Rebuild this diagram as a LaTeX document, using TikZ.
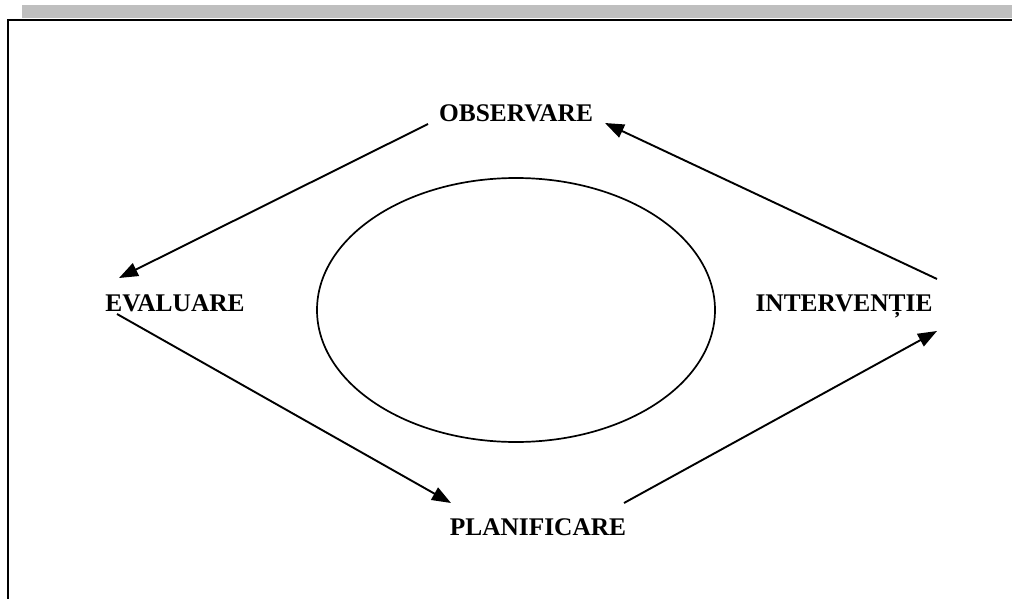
\documentclass[tikz,border=0pt]{standalone}
\usepackage{fontspec}
\setmainfont{Liberation Serif}
\usetikzlibrary{arrows.meta,shapes.geometric}
\tikzset{
  lbl/.style={font=\fontsize{25.4}{30}\selectfont\bfseries, inner sep=0pt, anchor=base},
  conn/.style={line width=1.9pt, -{Triangle[length=19pt,width=14pt]}},
}
\begin{document}
\begin{tikzpicture}[x=1pt,y=-1pt]
\useasboundingbox (0,0) rectangle (1012,599);
\fill[white] (0,0) rectangle (1012,599);
% top grey band
\fill[gray!50] (22,5) rectangle (1012,18);
% frame
\draw[line width=2.6pt] (8,599) -- (8,20) -- (1012,20);
% ellipse
\node[draw, line width=1.7pt, ellipse, minimum width=398pt, minimum height=264pt, inner sep=0pt] (ell) at (516,310) {};
% labels
\node[lbl] (obs) at (516,122) {OBSERVARE};
\node[lbl] (eva) at (175,311) {EVALUARE};
\node[lbl] (int) at (844,311) {INTERVENȚIE};
\node[lbl] (pla) at (538,535) {PLANIFICARE};
% connector end points
\coordinate (o1) at (428,124);
\coordinate (e1) at (119,278);
\coordinate (e2) at (117,314);
\coordinate (p1) at (451,503);
\coordinate (p2) at (624,503);
\coordinate (i1) at (937,331);
\coordinate (i2) at (937,279);
\coordinate (o2) at (605,123);
\draw[conn] (o1) -- (e1);
\draw[conn] (e2) -- (p1);
\draw[conn] (p2) -- (i1);
\draw[conn] (i2) -- (o2);
\end{tikzpicture}
\end{document}
